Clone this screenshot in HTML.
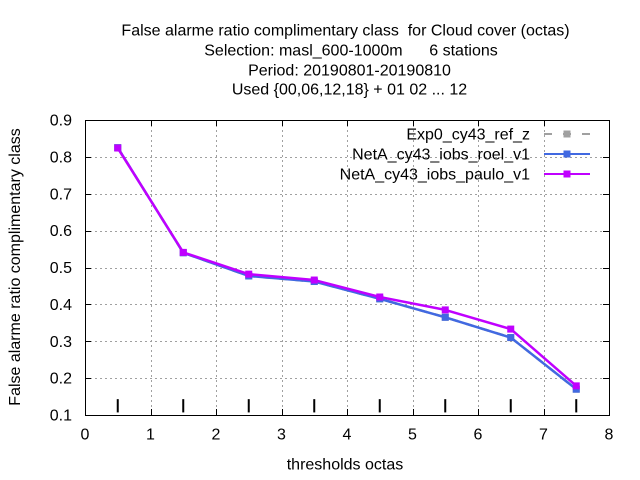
<!DOCTYPE html>
<html>
<head>
<meta charset="utf-8">
<style>
html,body{margin:0;padding:0;background:#fff;}
svg{display:block;}
text{font-family:"Liberation Sans",sans-serif;font-size:16px;fill:#000;}
</style>
</head>
<body>
<svg id="chart" xmlns="http://www.w3.org/2000/svg" width="640" height="480" viewBox="0 0 640 480">
<rect x="0" y="0" width="640" height="480" fill="#ffffff"/>
<g text-anchor="middle">
<text x="345.5" y="35.5" xml:space="preserve">False alarme ratio complimentary class  for Cloud cover (octas)</text>
<text x="351" y="55.5" xml:space="preserve">Selection: masl_600-1000m      6 stations</text>
<text x="349.5" y="75.5">Period: 20190801-20190810</text>
<text x="349.5" y="94.5">Used {00,06,12,18} + 01 02 ... 12</text>
</g>
<text text-anchor="middle" transform="translate(20,267) rotate(-90)">False alarme ratio complimentary class</text>
<text text-anchor="middle" x="345" y="469.5">thresholds octas</text>
<g id="grid"></g>
<g id="markers-bars"></g>
<g id="series"></g>
<g id="axes"></g>
<g id="legend"></g>
</svg>
<script>
var thresholds = [0.5, 1.5, 2.5, 3.5, 4.5, 5.5, 6.5, 7.5];
var exp0Values = [0.825, 0.54, 0.477, 0.462, 0.415, 0.365, 0.31, 0.17];
var roelValues = [0.825, 0.54, 0.477, 0.462, 0.415, 0.365, 0.31, 0.17];
var pauloValues = [0.824, 0.541, 0.482, 0.466, 0.42, 0.385, 0.333, 0.179];
var barValues = [0.143, 0.143, 0.143, 0.143, 0.143, 0.143, 0.143, 0.143];
var barBase = 0.107;
var xTicks = [0, 1, 2, 3, 4, 5, 6, 7, 8];
var yTicks = [0.1, 0.2, 0.3, 0.4, 0.5, 0.6, 0.7, 0.8, 0.9];
var seriesNames = ["Exp0_cy43_ref_z", "NetA_cy43_iobs_roel_v1", "NetA_cy43_iobs_paulo_v1"];

var NS = "http://www.w3.org/2000/svg";
var left = 85, right = 609, top_ = 120, bottom = 415;
var xMin = 0, xMax = 8, yMin = 0.1, yMax = 0.9;
function sx(v) { return left + (v - xMin) / (xMax - xMin) * (right - left); }
function sy(v) { return bottom - (v - yMin) / (yMax - yMin) * (bottom - top_); }
function mk(tag, attrs, parent) {
  var el = document.createElementNS(NS, tag);
  for (var k in attrs) el.setAttribute(k, attrs[k]);
  parent.appendChild(el);
  return el;
}
var gridG = document.getElementById("grid");
var axesG = document.getElementById("axes");
var barsG = document.getElementById("markers-bars");
var seriesG = document.getElementById("series");
var legendG = document.getElementById("legend");

xTicks.forEach(function (t) {
  var x = Math.round(sx(t)) + 0.5;
  if (t > xMin && t < xMax) {
    var g = mk("line", {x1: x, x2: x, y1: top_, y2: bottom, stroke: "#a0a0a0", "stroke-width": 1, "stroke-dasharray": "2 3"}, gridG);
    
    
  }
  var t1 = mk("path", {d: "M" + x + " " + bottom + "v-6M" + x + " " + top_ + "v6", stroke: "#000", "stroke-width": 1, fill: "none"}, axesG);
  
  
  var lab = mk("text", {x: sx(t), y: 439.5, "text-anchor": "middle"}, axesG);
  lab.textContent = String(t);
  
  
});
yTicks.forEach(function (t) {
  var y = Math.round(sy(t)) + 0.5;
  if (t > yMin && t < yMax) {
    var g = mk("line", {x1: left, x2: right, y1: y, y2: y, stroke: "#a0a0a0", "stroke-width": 1, "stroke-dasharray": "2 3"}, gridG);
    
    
  }
  var t1 = mk("path", {d: "M" + left + " " + y + "h6M" + right + " " + y + "h-6", stroke: "#000", "stroke-width": 1, fill: "none"}, axesG);
  
  
  var lab = mk("text", {x: 72, y: sy(t) + 5.5, "text-anchor": "end"}, axesG);
  lab.textContent = t.toFixed(1);
  
  
});
var frame = mk("rect", {x: left + 0.5, y: top_ + 0.5, width: right - left, height: bottom - top_, fill: "none", stroke: "#000", "stroke-width": 1}, axesG);



thresholds.forEach(function (t, i) {
  var b = mk("line", {x1: sx(t), x2: sx(t), y1: sy(barBase), y2: sy(barValues[i]), stroke: "#000", "stroke-width": 2}, barsG);
  
  
});

function drawSeries(vals, color, dash, size) {
  var pts = vals.map(function (v, i) { return sx(thresholds[i]) + "," + sy(v); }).join(" ");
  var line = mk("polyline", {points: pts, fill: "none", stroke: color, "stroke-width": 2.5, "stroke-linejoin": "round"}, seriesG);
  if (dash) line.setAttribute("stroke-dasharray", dash);
  
  
  vals.forEach(function (v, i) {
    var m = mk("rect", {x: sx(thresholds[i]) - size / 2, y: sy(v) - size / 2, width: size, height: size, fill: color}, seriesG);
    
    
  });
}
drawSeries(exp0Values, "#a0a0a0", "8 8", 7);
drawSeries(roelValues, "#4169e1", null, 7);
drawSeries(pauloValues, "#c000ff", null, 7);

var legendColors = ["#a0a0a0", "#4169e1", "#c000ff"];
var legendDash = ["8 11", null, null];
seriesNames.forEach(function (name, i) {
  var y = 134 + i * 20;
  var tx = mk("text", {x: 530, y: y + 5.5, "text-anchor": "end"}, legendG);
  tx.textContent = name;
  
  
  var ln = mk("line", {x1: 544, x2: 590, y1: y, y2: y, stroke: legendColors[i], "stroke-width": 2}, legendG);
  if (legendDash[i]) ln.setAttribute("stroke-dasharray", legendDash[i]);
  
  
  var m = mk("rect", {x: 563.5, y: y - 3.5, width: 7, height: 7, fill: legendColors[i]}, legendG);
  
  
});
</script>
</body>
</html>
